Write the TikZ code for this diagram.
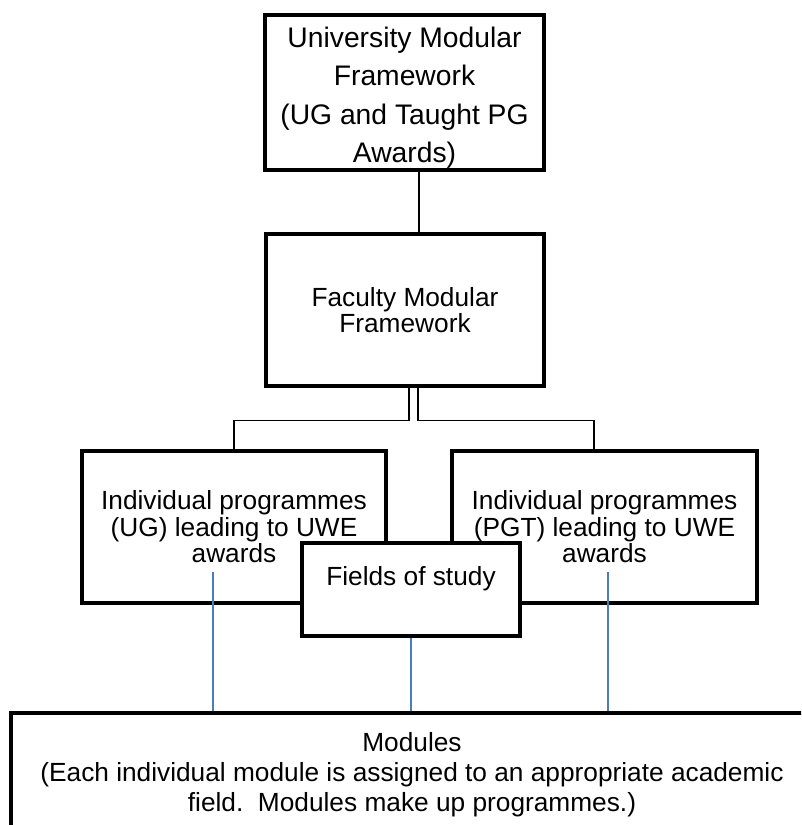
\documentclass[tikz,border=0pt]{standalone}
\usepackage{fontspec}
\setmainfont{Liberation Sans}
\usetikzlibrary{shapes}
\definecolor{linkblue}{RGB}{74,126,187}

\begin{document}
\begin{tikzpicture}
[x=0.75pt, y=-0.75pt,
block/.style      = {rectangle, draw=black, line width=3.6pt, fill=white, align=center, inner sep=0pt, font=\fontsize{19.7pt}{19.9pt}\selectfont},
top_block/.style  = {block, font=\fontsize{21.2pt}{28.9pt}\selectfont},
base_block/.style = {block, font=\fontsize{19.7pt}{22.5pt}\selectfont},
line/.style       = {draw, line width=1pt},
link/.style       = {draw=linkblue, line width=1.2pt}
]

\path[use as bounding box, clip] (0,0) rectangle (801,825);

% row 0
\node [top_block, minimum width=209.25pt, minimum height=116.25pt] (university) at (404.5,92.5)
  {\rule{0pt}{23pt}University Modular\\Framework\\(UG and Taught PG\\Awards)};
% row 1
\node [block, minimum width=208.5pt, minimum height=114pt] (faculty) at (405,310)
  {Faculty Modular\\Framework};
% row 2
\node [block, minimum width=228pt, minimum height=114pt] (ug_programmes) at (234,527)
  {Individual programmes\\(UG) leading to UWE\\awards};
\node [block, minimum width=228.75pt, minimum height=114pt] (pgt_programmes) at (604.5,527)
  {Individual programmes\\(PGT) leading to UWE\\awards};
\node [block, minimum width=163.5pt, minimum height=69.75pt] (fields) at (411,589.5)
  {Fields of study\\~};
% row 3
\node [base_block, minimum width=601.5pt, minimum height=93pt] (modules) at (412,775)
  {Modules\\(Each individual module is assigned to an appropriate academic\\field.\ \ Modules make up programmes.)};

\begin{scope}[every path/.style=line]
\path ([xshift=10.9pt]university.south) -- ([xshift=10.9pt]university.south |- faculty.north);
\path ([xshift=3pt]faculty.south) -- ++(0,32) -| (ug_programmes.north);
\path ([xshift=9.75pt]faculty.south) -- ++(0,32) -| ([xshift=-7.9pt]pgt_programmes.north);
\end{scope}

\coordinate (ug_link) at ([xshift=-15.75pt,yshift=24.75pt]ug_programmes.south);
\coordinate (pgt_link) at ([xshift=2.6pt,yshift=24.75pt]pgt_programmes.south);

\begin{scope}[every path/.style=link]
\path (ug_link) -- (ug_link |- modules.north);
\path (fields.south) -- (fields.south |- modules.north);
\path (pgt_link) -- (pgt_link |- modules.north);
\end{scope}

\end{tikzpicture}
\end{document}
